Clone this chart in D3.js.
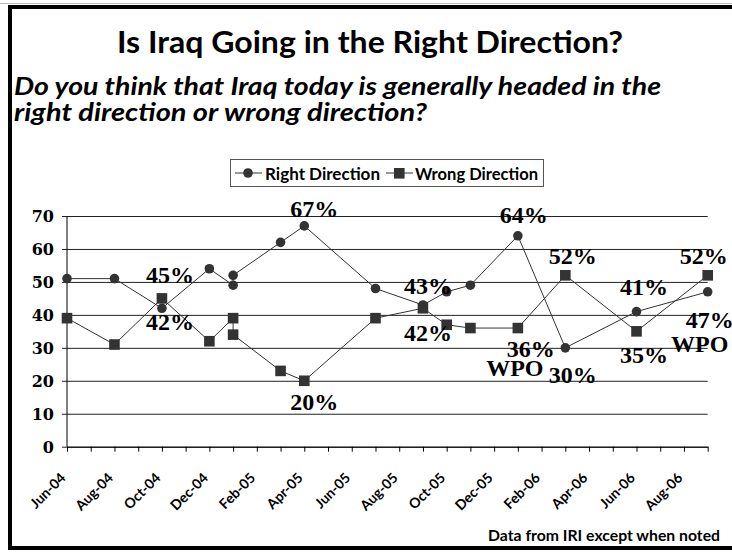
<!DOCTYPE html>
<html>
<head>
<meta charset="utf-8">
<script src="https://cdn.jsdelivr.net/npm/d3@7"></script>
<style>
  body { margin: 0; background: #fff; }
  svg { display: block; }
  .grid line { stroke: #222; stroke-width: 1; }
  .grid path { display: none; }
  .ylab { font-family: "DejaVu Serif", serif; font-weight: bold; font-size: 16px; fill: #000; }
  .xaxis path, .xaxis line { stroke: #000; stroke-width: 1; }
  .xaxis text { font-family: Lato, sans-serif; font-weight: bold; font-size: 14px; fill: #000; }
  .series { fill: none; stroke: #333; stroke-width: 1; }
  .mark { fill: #333; }
  .dlabel { font-family: "Liberation Serif", serif; font-weight: bold; font-size: 24px; fill: #000; }
</style>
</head>
<body>
<svg id="chart" width="732" height="552"></svg>
<script>
// month index counted from Jun-04
var rightMonth = [0, 2, 4, 6, 7, 7, 9, 10, 13, 15, 16, 17, 19, 21, 24, 27];
var rightVals  = [51, 51, 42, 54, 49, 52, 62, 67, 48, 43, 47, 49, 64, 30, 41, 47];
var wrongMonth = [0, 2, 4, 6, 7, 7, 9, 10, 13, 15, 16, 17, 19, 21, 24, 27];
var wrongVals  = [39, 31, 45, 32, 39, 34, 23, 20, 39, 42, 37, 36, 36, 52, 35, 52];

var tickLabels = ["Jun-04", "Aug-04", "Oct-04", "Dec-04", "Feb-05", "Apr-05", "Jun-05",
                  "Aug-05", "Oct-05", "Dec-05", "Feb-06", "Apr-06", "Jun-06", "Aug-06"];
var yTicks = [0, 10, 20, 30, 40, 50, 60, 70];

// which points carry a value label (point index -> text)
var rightLabels = [[2, "42%"], [7, "67%"], [9, "43%"], [12, "64%"], [13, "30%"], [14, "41%"], [15, "47%"], [15, "WPO"]];
var wrongLabels = [[2, "45%"], [7, "20%"], [9, "42%"], [12, "36%"], [12, "WPO"], [13, "52%"], [14, "35%"], [15, "52%"]];

//////////////////////////////////////////////////////////////////////////////

var svg = d3.select("#chart");

// outer frame
svg.append("line").attr("x1", 0).attr("x2", 732).attr("y1", 3.5).attr("y2", 3.5)
    .attr("stroke", "#bbb").attr("stroke-width", 1);
svg.append("rect")
    .attr("x", 10).attr("y", 7).attr("width", 724).attr("height", 541)
    .attr("fill", "#fff").attr("stroke", "#000").attr("stroke-width", 4);

// titles
svg.append("text")
    .attr("x", 117).attr("y", 53)
    .attr("textLength", 506).attr("lengthAdjust", "spacingAndGlyphs")
    .style("font-family", "Lato, sans-serif").style("font-weight", "bold").style("font-size", "30px")
    .text("Is Iraq Going in the Right Direction?");

svg.append("text")
    .attr("x", 14).attr("y", 95)
    .attr("textLength", 647).attr("lengthAdjust", "spacingAndGlyphs")
    .style("font-family", "Lato, sans-serif").style("font-weight", "bold").style("font-style", "italic").style("font-size", "24px")
    .text("Do you think that Iraq today is generally headed in the");

svg.append("text")
    .attr("x", 14).attr("y", 121)
    .attr("textLength", 413).attr("lengthAdjust", "spacingAndGlyphs")
    .style("font-family", "Lato, sans-serif").style("font-weight", "bold").style("font-style", "italic").style("font-size", "24px")
    .text("right direction or wrong direction?");

// scales
var x = d3.scaleLinear().domain([0, 27]).range([67, 707.7]);
var y = d3.scaleLinear().domain([0, 70]).range([446.7, 216]);
var plotW = x(27) - x(0);

// gridlines + y labels
var grid = svg.append("g")
    .attr("class", "grid")
    .attr("transform", "translate(" + x(0) + ",0)")
    .call(d3.axisLeft(y).tickValues(yTicks).tickSize(-plotW).tickPadding(13).tickFormat(d3.format("d")));
grid.selectAll(".tick line").attr("x1", -5);
grid.selectAll(".tick text").attr("class", "ylab").attr("dy", "0.36em");

svg.append("line")
    .attr("x1", x(0)).attr("x2", x(0)).attr("y1", y(70)).attr("y2", y(0))
    .attr("stroke", "#000");

// x axis
var xAxis = svg.append("g")
    .attr("class", "xaxis")
    .attr("transform", "translate(0," + y(0) + ")")
    .call(d3.axisBottom(x).tickValues(d3.range(0, 28)).tickSize(5).tickSizeOuter(0)
      .tickFormat(function(d){ return d % 2 === 0 ? tickLabels[d / 2] : ""; }));
xAxis.selectAll(".tick text")
    .attr("text-anchor", "end")
    .attr("dy", 0)
    .attr("y", 0)
    .attr("transform", "translate(-1,32) rotate(-45)");

// series
var line = d3.line().x(function(d){ return x(d[0]); }).y(function(d){ return y(d[1]); });
var rightPts = rightMonth.map(function(m, i){ return [m, rightVals[i]]; });
var wrongPts = wrongMonth.map(function(m, i){ return [m, wrongVals[i]]; });

svg.append("path").attr("class", "series").attr("d", line(rightPts));
svg.append("path").attr("class", "series").attr("d", line(wrongPts));

svg.selectAll("circle.mark")
    .data(rightPts)
    .enter().append("circle")
    .attr("class", "mark")
    .attr("cx", function(d){ return x(d[0]); })
    .attr("cy", function(d){ return y(d[1]); })
    .attr("r", 4.8);

svg.selectAll("rect.mark")
    .data(wrongPts)
    .enter().append("rect")
    .attr("class", "mark")
    .attr("x", function(d){ return x(d[0]) - 5.3; })
    .attr("y", function(d){ return y(d[1]) - 5.3; })
    .attr("width", 10.6)
    .attr("height", 10.6);

// data labels: offsets (dx, baseline dy) from each point
var rightOff = [[8, 22], [10, -9], [5, -11], [6, -13], [7.5, 35], [7.5, -17], [2, 36], [-8, 60]];
var wrongOff = [[8, -15], [10, 29], [5, 33], [13, 29], [-3, 48], [7.5, -11], [7.5, 32], [-4, -11]];

function drawLabels(labels, offs, pts) {
  svg.append("g").selectAll("text")
      .data(labels)
      .enter().append("text")
      .attr("class", "dlabel")
      .attr("text-anchor", "middle")
      .attr("x", function(d, i){ return x(pts[d[0]][0]) + offs[i][0]; })
      .attr("y", function(d, i){ return y(pts[d[0]][1]) + offs[i][1]; })
      .text(function(d){ return d[1]; });
}
drawLabels(rightLabels, rightOff, rightPts);
drawLabels(wrongLabels, wrongOff, wrongPts);

// legend
var leg = svg.append("g");
leg.append("rect")
    .attr("x", 230.5).attr("y", 159.5).attr("width", 313).attr("height", 27)
    .attr("fill", "#fff").attr("stroke", "#555");
leg.append("line").attr("x1", 235).attr("x2", 262).attr("y1", 173).attr("y2", 173).attr("stroke", "#333");
leg.append("circle").attr("class", "mark").attr("cx", 248).attr("cy", 173).attr("r", 4.8);
leg.append("text")
    .attr("x", 265).attr("y", 179.5)
    .attr("textLength", 115).attr("lengthAdjust", "spacingAndGlyphs")
    .style("font-family", "Lato, sans-serif").style("font-weight", "bold").style("font-size", "17px")
    .text("Right Direction");
leg.append("line").attr("x1", 386).attr("x2", 413).attr("y1", 173).attr("y2", 173).attr("stroke", "#333");
leg.append("rect").attr("class", "mark").attr("x", 394).attr("y", 168).attr("width", 10.6).attr("height", 10.6);
leg.append("text")
    .attr("x", 415).attr("y", 179.5)
    .attr("textLength", 123).attr("lengthAdjust", "spacingAndGlyphs")
    .style("font-family", "Lato, sans-serif").style("font-weight", "bold").style("font-size", "17px")
    .text("Wrong Direction");

// source note
svg.append("text")
    .attr("x", 488).attr("y", 540.5)
    .attr("textLength", 232).attr("lengthAdjust", "spacingAndGlyphs")
    .style("font-family", "Lato, sans-serif").style("font-weight", "bold").style("font-size", "15px")
    .text("Data from IRI except when noted");
</script>
</body>
</html>
